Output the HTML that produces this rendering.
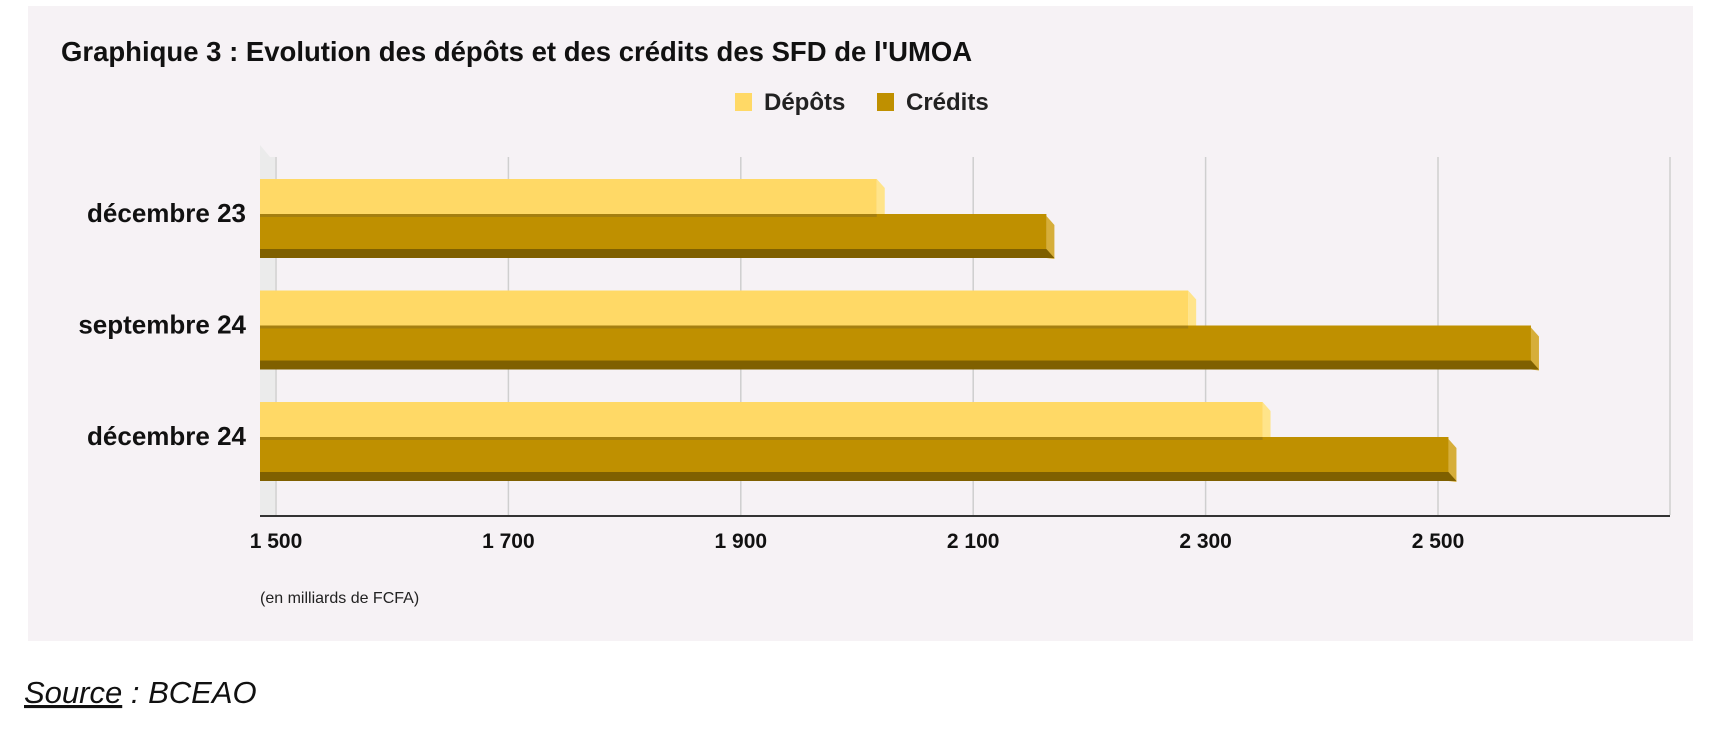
<!DOCTYPE html>
<html><head><meta charset="utf-8"><style>
body{margin:0;width:1713px;height:726px;background:#fff;overflow:hidden;font-family:"Liberation Sans",Arial,sans-serif}
</style></head><body>
<svg width="1713" height="726" xmlns="http://www.w3.org/2000/svg">
<rect x="28" y="6" width="1665" height="635" fill="#f6f2f5"/>
<text x="61" y="61" font-size="27.5" font-weight="bold" fill="#111">Graphique 3 : Evolution des dépôts et des crédits des SFD de l'UMOA</text>
<g>
<rect x="735" y="93" width="17" height="18" fill="#ffd966"/>
<text x="764" y="110" font-size="24" font-weight="bold" fill="#222">Dépôts</text>
<rect x="877" y="93" width="17" height="18" fill="#bf9000"/>
<text x="906" y="110" font-size="24" font-weight="bold" fill="#222">Crédits</text>
</g>
<polygon points="260,145 270,157 275,157 275,515 260,515" fill="#ebebeb"/>
<g id="grid"></g>
<g id="bars"></g>
<line x1="260" y1="516" x2="1670" y2="516" stroke="#333" stroke-width="2"/>
<g id="ticks"></g>
<g id="cats"></g>
<text x="260" y="603" font-size="16" fill="#222">(en milliards de FCFA)</text>
<text x="24" y="703" font-size="31" font-style="italic" fill="#111"><tspan text-decoration="underline">Source</tspan> : BCEAO</text>
</svg>
<script>
const categories=["décembre 23","septembre 24","décembre 24"];
const depots=[2017,2285,2349];
const credits=[2163,2580,2509];
const ticks=[1500,1700,1900,2100,2300,2500];
const tickLabels=["1 500","1 700","1 900","2 100","2 300","2 500"];
const NS="http://www.w3.org/2000/svg";
const x=v=>276+(v-1500)*232.4/200;
const x0=260;
function mk(tag,attrs,parent){const e=document.createElementNS(NS,tag);for(const k in attrs)e.setAttribute(k,attrs[k]);parent.appendChild(e);return e;}
const grid=document.getElementById('grid'),bars=document.getElementById('bars'),tk=document.getElementById('ticks'),cats=document.getElementById('cats');
ticks.forEach((t,i)=>{
 const l=mk('line',{x1:x(t),x2:x(t),y1:157,y2:515,stroke:'#cfcfcf','stroke-width':1.5},grid);
 
 
 const tx=mk('text',{x:x(t),y:548,'font-size':21,'font-weight':'bold','text-anchor':'middle',fill:'#111'},tk);
 tx.textContent=tickLabels[i];
 
 
});
const l2=mk('line',{x1:1670,x2:1670,y1:157,y2:515,stroke:'#cfcfcf','stroke-width':1.5},grid);


categories.forEach((c,i)=>{
 const y=179+i*111.5;
 const t=mk('text',{x:246,y:y+43,'font-size':26,'font-weight':'bold','text-anchor':'end',fill:'#111'},cats);
 t.textContent=c;
 
 
 // depots
 const xd=x(depots[i]);
 const sd=mk('polygon',{points:`${xd},${y} ${xd+8},${y+9} ${xd+8},${y+36} ${xd},${y+36}`,fill:'#ffe48a'},bars);
 
 
 const bd=mk('rect',{x:x0,y:y,width:xd-x0,height:35,fill:'#ffd966'},bars);
 
 
 // credits
 const xc=x(credits[i]);
 const yc=y+35;
 const sc=mk('polygon',{points:`${xc},${yc+2} ${xc+8},${yc+11} ${xc+8},${yc+45} ${xc},${yc+44}`,fill:'#d6ae3a'},bars);
 
 
 const bc=mk('rect',{x:x0,y:yc,width:xc-x0,height:35,fill:'#bf9000'},bars);
 
 
 const bb=mk('polygon',{points:`${x0},${yc+35} ${xc},${yc+35} ${xc+8},${yc+44} ${x0},${yc+44}`,fill:'#7f6000'},bars);
 
 
 const sh=mk('rect',{x:x0,y:yc,width:Math.min(xd,xc)-x0,height:3,fill:'#a57f10'},bars);
 
 
});
</script>
</body></html>
